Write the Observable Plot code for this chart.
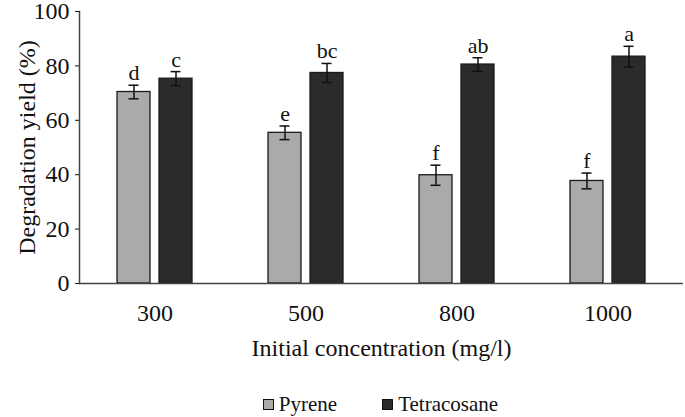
<!DOCTYPE html>
<html><head><meta charset="utf-8">
<script src="https://cdn.jsdelivr.net/npm/d3@7"></script>
<script src="https://cdn.jsdelivr.net/npm/@observablehq/plot@0.6"></script>
<style>
body{margin:0;padding-top:3px;background:#fff;font-family:"Liberation Serif",serif;}
svg{overflow:visible;}
svg, svg text{font-family:"Liberation Serif",serif !important;}
#legend{display:flex;justify-content:center;align-items:center;padding-left:78px;padding-right:2px;margin-top:17px;font-size:21px;line-height:24px;color:#111;width:605px;font-family:"Liberation Serif",serif}
.item{display:flex;align-items:center}
.sw{display:inline-block;width:9px;height:9px;border:1px solid #111;margin-right:5px}
</style></head><body>
<div id="chart"></div>
<div id="legend"></div>
<script>
const concentrations = ["300", "500", "800", "1000"];
const seriesNames = ["Pyrene", "Tetracosane"];
const pyrene = [70.4, 55.4, 39.8, 37.7];
const pyreneErr = [2.5, 2.5, 3.7, 2.9];
const tetracosane = [75.3, 77.4, 80.5, 83.4];
const tetracosaneErr = [2.6, 3.5, 2.5, 3.8];
const pyreneLetters = ["d", "e", "f", "f"];
const tetracosaneLetters = ["c", "bc", "ab", "a"];
const seriesColors = ["#aaaaaa", "#2b2b2b"];
const yTicks = [0, 20, 40, 60, 80, 100];

const rows = [];
concentrations.forEach((c, i) => {
  rows.push({conc: c, series: "Pyrene", value: pyrene[i], err: pyreneErr[i], letter: pyreneLetters[i]});
  rows.push({conc: c, series: "Tetracosane", value: tetracosane[i], err: tetracosaneErr[i], letter: tetracosaneLetters[i]});
});
const hi = d => d.value + d.err;
const lo = d => d.value - d.err;

const plot = Plot.plot({
  width: 685,
  height: 372,
  marginLeft: 78,
  marginRight: 2,
  marginTop: 8,
  marginBottom: 92,
  style: {fontFamily: "'Liberation Serif', serif", fontSize: "24px", color: "#111", background: "white", overflow: "visible"},
  fx: {domain: concentrations, padding: 0},
  x: {domain: seriesNames, paddingInner: 0.209, paddingOuter: 0.868, axis: null},
  y: {domain: [0, 100]},
  color: {domain: seriesNames, range: seriesColors},
  marks: [
    Plot.frame({anchor: "left", facetAnchor: "left", stroke: "#444", strokeWidth: 1.5}),
    Plot.barY(rows, {fx: "conc", x: "series", y: "value", fill: "series", stroke: "#1a1a1a", strokeWidth: 1.3}),
    Plot.ruleY([0], {stroke: "#444", strokeWidth: 1.5}),
    Plot.ruleX(rows, {fx: "conc", x: "series", y1: lo, y2: hi, stroke: "#111", strokeWidth: 1.5}),
    Plot.tickY(rows, {fx: "conc", x: "series", y: hi, insetLeft: 11.5, insetRight: 11.5, stroke: "#111", strokeWidth: 1.5}),
    Plot.tickY(rows, {fx: "conc", x: "series", y: lo, insetLeft: 11.5, insetRight: 11.5, stroke: "#111", strokeWidth: 1.5}),
    Plot.text(rows, {fx: "conc", x: "series", y: hi, text: "letter", lineAnchor: "bottom", dy: -5, fontSize: 22, fill: "#111"}),
    Plot.axisY({ticks: yTicks, tickSize: 4, tickPadding: 6, tickFormat: d => String(d), fontSize: 24, label: "Degradation yield (%)", labelAnchor: "center", labelOffset: 62, labelArrow: "none"}),
    Plot.axisFx({anchor: "bottom", tickSize: 0, tickPadding: 20, fontSize: 24, label: "Initial concentration (mg/l)", labelAnchor: "center", labelOffset: 72, labelArrow: "none"})
  ]
});
document.getElementById("chart").appendChild(plot);

const legend = document.getElementById("legend");
seriesNames.forEach((s, i) => {
  const item = document.createElement("div");
  item.className = "item";
  if (i > 0) item.style.marginLeft = "45px";
  const sw = document.createElement("span");
  sw.className = "sw";
  sw.style.background = seriesColors[i];
  const t = document.createElement("span");
  t.textContent = s;
  item.appendChild(sw);
  item.appendChild(t);
  legend.appendChild(item);
});
</script>
</body></html>
